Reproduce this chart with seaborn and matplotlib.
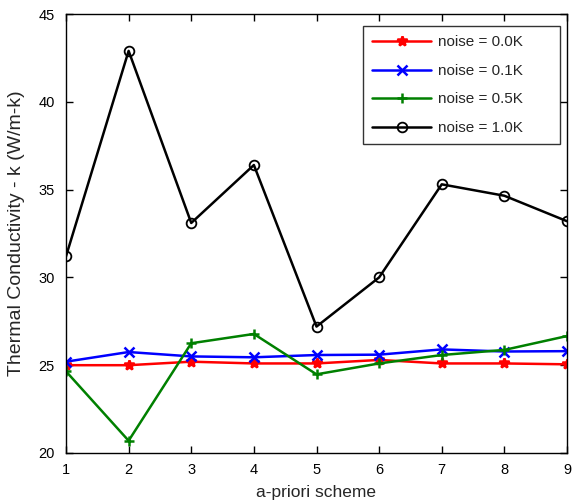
import matplotlib
matplotlib.use("Agg")
import matplotlib.pyplot as plt
import seaborn as sns
import pandas as pd

schemes = [1, 2, 3, 4, 5, 6, 7, 8, 9]
k_noise_00 = [25.0, 25.0, 25.2, 25.1, 25.1, 25.3, 25.1, 25.1, 25.05]
k_noise_01 = [25.2, 25.75, 25.5, 25.45, 25.58, 25.6, 25.9, 25.78, 25.8]
k_noise_05 = [24.65, 20.7, 26.25, 26.78, 24.48, 25.1, 25.58, 25.87, 26.66]
k_noise_10 = [31.2, 42.9, 33.1, 36.4, 27.2, 30.0, 35.3, 34.65, 33.2]

labels = ["noise = 0.0K", "noise = 0.1K", "noise = 0.5K", "noise = 1.0K"]
colors = ["#ff0000", "#0000ff", "#008000", "#000000"]
markers = ["*", "x", "+", "o"]
series = [k_noise_00, k_noise_01, k_noise_05, k_noise_10]

sns.set_style("ticks")
plt.rcParams["font.family"] = ["Liberation Sans", "DejaVu Sans"]

fig = plt.figure(figsize=(5.72, 5.03), dpi=100)
ax = fig.add_axes([66 / 572, 1 - 453 / 503, 501 / 572, 439 / 503])

for lab, vals, col, mk in zip(labels, series, colors, markers):
    df = pd.DataFrame({"scheme": schemes, "k": vals})
    kw = dict(marker=mk, markersize=7, color=col, linewidth=1.8, label=lab)
    if mk == "o":
        kw.update(markerfacecolor="none", markeredgecolor=col, markeredgewidth=1.3)
    else:
        kw.update(markeredgecolor=col, markeredgewidth=1.8)
    sns.lineplot(data=df, x="scheme", y="k", ax=ax, **kw)

ax.set_xlim(1, 9)
ax.set_ylim(20, 45)
ax.set_xticks(schemes)
ax.set_yticks([20, 25, 30, 35, 40, 45])
ax.tick_params(direction="in", top=True, right=True, length=5, width=1,
               labelsize=10.5, colors="black")
ax.tick_params(axis="y", pad=8)
ax.tick_params(axis="x", pad=7)
for s in ax.spines.values():
    s.set_linewidth(1.0)
    s.set_color("black")
ax.set_xlabel("a-priori scheme", fontsize=12.5, labelpad=6)
ax.set_ylabel("Thermal Conductivity - k (W/m-k)", fontsize=14, labelpad=10)

handles, hlabels = ax.get_legend_handles_labels()
leg = ax.legend(handles, hlabels, loc="upper left",
                bbox_to_anchor=(0.5928, 0.6948, 0.3932, 0.2779), mode="expand",
                borderaxespad=0, fontsize=11, frameon=True, fancybox=False,
                edgecolor="black", handlelength=3.86, handletextpad=0.46,
                borderpad=0.62, labelspacing=0.95)
leg.get_frame().set_linewidth(1.0)

fig.savefig("out.png", dpi=100)
